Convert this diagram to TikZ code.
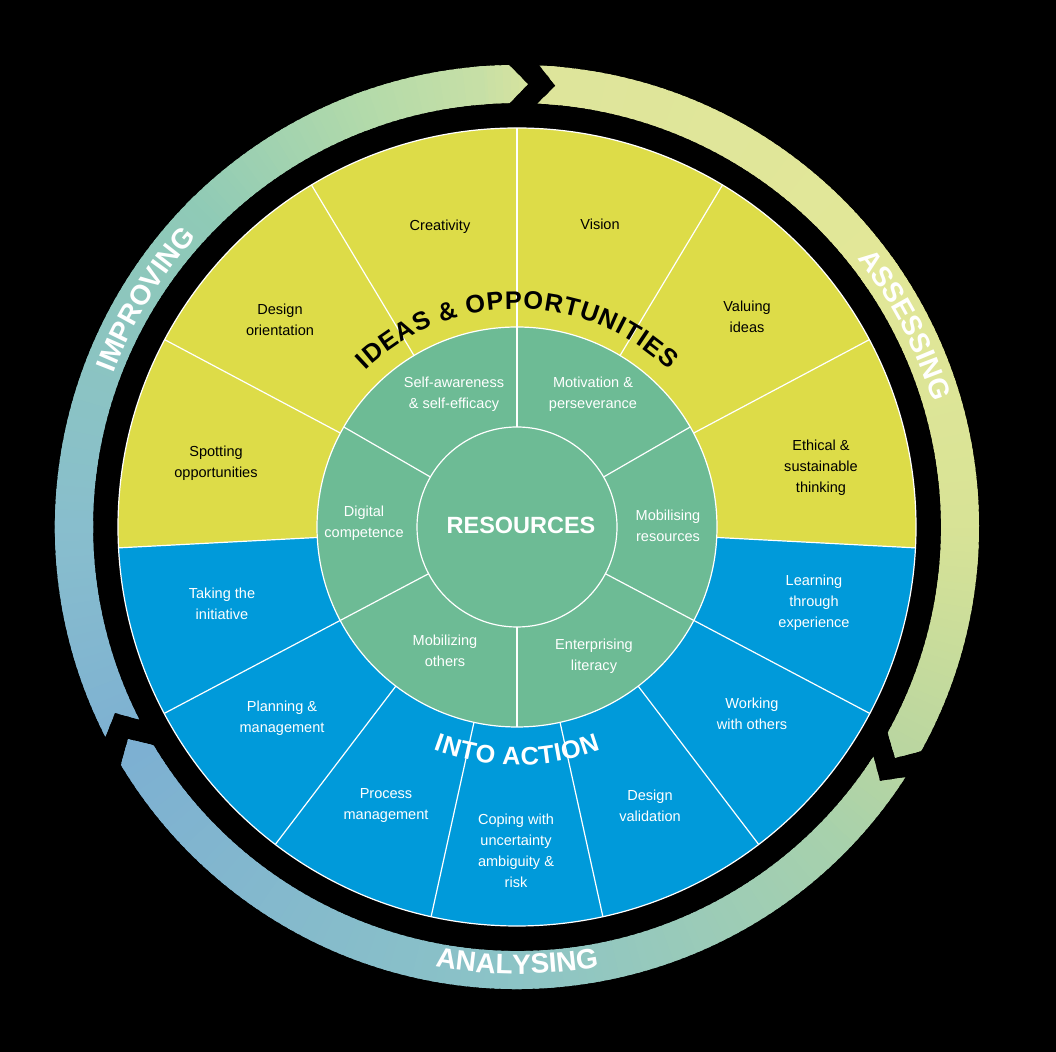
\documentclass[tikz,border=0pt]{standalone}
\usepackage{fontspec}
\setmainfont{Liberation Sans}
\usetikzlibrary{decorations.text}
\definecolor{yel}{RGB}{221,220,72}
\definecolor{blu}{RGB}{0,154,218}
\definecolor{grn}{RGB}{109,187,149}
\definecolor{r0}{RGB}{198,223,166}
\definecolor{r1}{RGB}{222,229,155}
\definecolor{r2}{RGB}{226,231,152}
\definecolor{r3}{RGB}{216,227,150}
\definecolor{r4}{RGB}{186,214,160}
\definecolor{r5}{RGB}{167,209,172}
\definecolor{r6}{RGB}{140,196,198}
\definecolor{r7}{RGB}{125,176,210}
\definecolor{r8}{RGB}{136,190,205}
\definecolor{r9}{RGB}{143,202,182}
\definecolor{r10}{RGB}{178,218,170}
\newcommand\ringfont{\fontsize{21}{21}\selectfont\bfseries}
\newcommand\arcfont{\fontsize{19}{19}\selectfont\bfseries}
\tikzset{
  sep/.style={white, line width=0.9pt},
  lbl/.style={font=\fontsize{10.9}{15.75}\selectfont, align=center, inner sep=0pt},
  dark/.style={lbl, text=black},
  light/.style={lbl, text=white},
}
\begin{document}
\begin{tikzpicture}[x=0.75pt,y=0.75pt]
\useasboundingbox (0,0) rectangle (1056,1052);
\fill[black] (0,0) rectangle (1056,1052);
\begin{scope}[shift={(517,525)}]
  % outer ring of three arrows with a conic gradient
  \begin{scope}
    \clip (207:462) arc[start angle=207,end angle=91,radius=462] -- (88.6:443) -- (91:424) arc[start angle=91,end angle=207,radius=424] -- (204.8:443) -- cycle
          (87.2:462) arc[start angle=87.2,end angle=-29,radius=462] -- (-31.4:443) -- (-29:424) arc[start angle=-29,end angle=87.2,radius=424] -- (85:443) -- cycle
          (-32.8:462) arc[start angle=-32.8,end angle=-149,radius=462] -- (-151.4:443) -- (-149:424) arc[start angle=-149,end angle=-32.8,radius=424] -- (-35:443) -- cycle;
    \foreach \ua/\ub/\ca/\cb in {0/10/r0/r1,10/60/r1/r2,60/95/r2/r3,95/125/r3/r4,125/140/r4/r5,140/185/r5/r6,185/245/r6/r7,245/275/r7/r8,275/320/r8/r9,320/345/r9/r10,345/360/r10/r0}{
      \foreach \u in {\ua,...,\ub}{
        \pgfmathsetmacro\pp{100*(\u-\ua)/(\ub-\ua)}
        \pgfmathsetmacro\angA{95-\u+0.8}
        \pgfmathsetmacro\angB{95-\u-0.8}
        \colorlet{rc}{\cb!\pp!\ca}
        \fill[rc] (0,0) -- (\angA:480) arc[start angle=\angA,end angle=\angB,radius=480] -- cycle;
      }
    }
  \end{scope}
  % ring labels
  \path[decorate,decoration={text along path,text align=center,text color=white,text={|\ringfont|IMPROVING}}]
    (178.5:432) arc[start angle=178.5,end angle=118.5,radius=432];
  \path[decorate,decoration={text along path,text align=center,text color=white,text={|\ringfont|ASSESSING}}]
    (57.5:434) arc[start angle=57.5,end angle=-2.5,radius=434];
  \path[decorate,decoration={text along path,text align=center,text color=white,text={|\ringfont|ANALYSING}}]
    (-120:447) arc[start angle=-120,end angle=-60,radius=447];
  % main disc
  \fill[yel] (0,0) -- (-3:399) arc[start angle=-3,end angle=183,radius=399] -- cycle;
  \fill[blu] (0,0) -- (183:399) arc[start angle=183,end angle=357,radius=399] -- cycle;
  \fill[grn] (0,0) circle[radius=200];
  \draw[sep] (0,0) circle[radius=399];
  \draw[sep] (0,0) circle[radius=200];
  \draw[sep] (0,0) circle[radius=100];
  \foreach \a in {183,152,121,90,59,28,-3}{\draw[sep] (\a:200) -- (\a:399);}
  \foreach \k in {1,...,6}{\pgfmathsetmacro\ang{183+\k*174/7}\draw[sep] (\ang:200) -- (\ang:399);}
  \foreach \a in {30,90,150,207.86,270,332.14}{\draw[sep] (\a:100) -- (\a:200);}
  % yellow labels
  \node[dark] (creativity) at (-77,300) {Creativity};
  \node[dark] (vision) at (83,303) {Vision};
  \node[dark] (design) at (-237,207) {Design\\orientation};
  \node[dark] (valuing) at (230,210) {Valuing\\ideas};
  \node[dark] (spotting) at (-301,64) {Spotting\\opportunities};
  \node[dark] (ethical) at (304,59) {Ethical \&\\sustainable\\thinking};
  % blue labels
  \node[light] (taking) at (-295,-77) {Taking the\\initiative};
  \node[light] (planning) at (-235,-191) {Planning \&\\management};
  \node[light] (process) at (-131,-279) {Process\\management};
  \node[light] (coping) at (-1,-324) {Coping with\\uncertainty\\ambiguity \&\\risk};
  \node[light] (validation) at (133,-279) {Design\\validation};
  \node[light] (working) at (235,-187) {Working\\with others};
  \node[light] (learning) at (297,-76) {Learning\\through\\experience};
  % green labels
  \node[light] (selfaw) at (-63,133) {Self-awareness\\\& self-efficacy};
  \node[light] (motiv) at (76,133) {Motivation \&\\perseverance};
  \node[light] (mobres) at (151,1) {Mobilising\\resources};
  \node[light] (enterp) at (77,-129) {Enterprising\\literacy};
  \node[light] (mobothers) at (-72,-124) {Mobilizing\\others};
  \node[light] (digital) at (-153,4) {Digital\\competence};
  \node[text=white, inner sep=0pt, font=\fontsize{17.6}{17.6}\selectfont\bfseries] (resources) at (4,2) {RESOURCES};
  % curved headings
  \path[decorate,decoration={text along path,text align={fit to path},text color=black,text={|\arcfont|IDEAS {\&} OPPORTUNITIES}}]
    (134:218) arc[start angle=134,end angle=46,radius=218];
  \path[decorate,decoration={text along path,text align={fit to path},text color=white,text={|\arcfont|INTO ACTION}}]
    (-110.5:238) arc[start angle=-110.5,end angle=-69.5,radius=238];
\end{scope}
\end{tikzpicture}
\end{document}
